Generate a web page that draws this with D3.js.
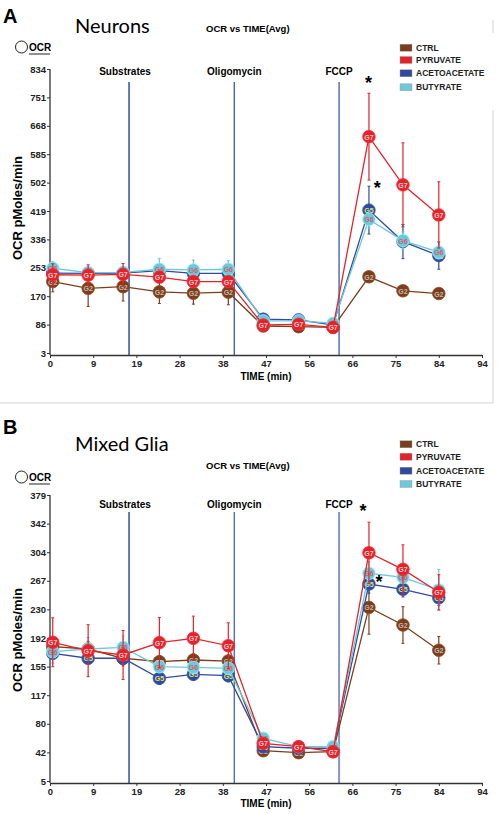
<!DOCTYPE html>
<html><head><meta charset="utf-8">
<script src="https://cdn.jsdelivr.net/npm/d3@7"></script>
<style>
body{margin:0;background:#fff}
svg{display:block}
text{font-family:"Liberation Sans",Arial,sans-serif}
</style>
</head><body>
<svg id="c" width="498" height="814"></svg>
<script>
// ---------- data ----------
const times = [0.6, 8.3, 15.9, 23.8, 31.2, 38.8, 46.4, 54.1, 61.6, 69.4, 76.8, 84.6];
const seriesNames = ["CTRL", "PYRUVATE", "ACETOACETATE", "BUTYRATE"];
const seriesCodes = ["G2", "G7", "G5", "G6"];
const xTickValues = [0, 9.4, 18.8, 28.2, 37.6, 47, 56.4, 65.8, 75.2, 84.6, 94];
const xTickLabels = ["0", "9", "19", "28", "38", "47", "56", "66", "75", "84", "94"];
const events = ["Substrates", "Oligomycin", "FCCP"];
const eventTimes = [17.2, 40.1, 62.9];

// Neurons (panel A)
const neuronsYTicks = [3, 86.1, 169.2, 252.3, 335.4, 418.5, 501.6, 584.7, 667.8, 750.9, 834];
const neuronsYLabels = ["3", "86", "170", "253", "336", "419", "502", "585", "668", "751", "834"];
const neuronsCTRL = [212, 192, 197, 182, 178, 181, 82, 80, 78, 226, 185, 177];
const neuronsPYR = [232, 231, 233, 225, 212, 212, 85, 87, 78, 636, 495, 407];
const neuronsACAC = [237, 236, 237, 244, 236, 236, 102, 100, 85, 421, 329, 288];
const neuronsBUT = [251, 238, 239, 248, 246, 248, 97, 97, 90, 394, 332, 298];
const neuronsCTRLerr = [30, 53, 42, 34, 32, 37, 8, 6, 6, 12, 10, 12];
const neuronsPYRerr = [32, 30, 32, 15, 15, 15, 8, 6, 6, 127, 123, 97];
const neuronsACACerr = [15, 15, 15, 15, 15, 15, 6, 6, 6, 70, 50, 40];
const neuronsBUTerr = [20, 15, 15, 32, 29, 25, 6, 6, 6, 25, 25, 20];
const neuronsStars = [[69.3, 797], [71.2, 490]];

// Mixed Glia (panel B)
const gliaYTicks = [5, 42.4, 79.8, 117.2, 154.6, 192, 229.4, 266.8, 304.2, 341.6, 379];
const gliaYLabels = ["5", "42", "80", "117", "155", "192", "230", "267", "304", "342", "379"];
const gliaCTRL = [180.6, 177.6, 165.5, 161, 163.2, 161.9, 44.6, 42, 43.3, 232, 209, 176];
const gliaPYR = [186.4, 175.4, 169.8, 185.9, 191.6, 181.9, 54.3, 49.9, 43.3, 303.5, 281.8, 251.8];
const gliaACAC = [172, 165.5, 165.5, 139.3, 144.5, 142.7, 49.9, 47.8, 47.8, 262.6, 255.7, 244.7];
const gliaBUT = [174.1, 177.6, 179.7, 154.5, 153.7, 152.4, 60.8, 49.9, 49.9, 276.6, 271.4, 254.8];
const gliaCTRLerr = [10, 10, 10, 8, 8, 8, 5, 5, 5, 35, 24, 18];
const gliaPYRerr = [32, 34, 32, 33, 29, 30, 6, 6, 5, 40, 32, 23];
const gliaACACerr = [8, 8, 8, 8, 8, 8, 4, 4, 4, 12, 10, 10];
const gliaBUTerr = [15, 15, 15, 8, 8, 8, 4, 4, 4, 15, 12, 27];
const gliaStars = [[68.1, 360], [71.6, 267]];

// ---------- styles ----------
const seriesColors = ["#7a3e1d", "#e3232b", "#2f4b9c", "#6ec8da"];
const codeColors = ["#c9b6ab", "#f6c9c9", "#e8e06a", "#d0606c"];
const drawOrder = [0, 2, 3, 1];

const svg = d3.select("#c");

function panel(cfg) {
  const g = svg.append("g");
  const x = d3.scaleLinear().domain([0, 94]).range([50, 482]);
  const y = d3.scaleLinear().domain(cfg.yDomain).range(cfg.yRange);

  // letter + titles
  g.append("text").attr("x", 3).attr("y", cfg.letterY).attr("font-size", 20)
    .attr("font-weight", "bold").attr("dominant-baseline", "central").text(cfg.letter);
  g.append("text").attr("x", 75).attr("y", cfg.titleY).attr("font-size", 20)
    .style("font-family", "Lato, 'Open Sans', sans-serif")
    .attr("dominant-baseline", "central").text(cfg.title);
  g.append("text").attr("x", 206).attr("y", cfg.subY).attr("font-size", 9.5)
    .attr("font-weight", "bold").attr("dominant-baseline", "central").text("OCR vs TIME(Avg)");

  // OCR key
  g.append("circle").attr("cx", 21.5).attr("cy", cfg.keyY).attr("r", 6)
    .attr("fill", "none").attr("stroke", "#222").attr("stroke-width", 1);
  g.append("text").attr("x", 29).attr("y", cfg.keyY).attr("font-size", 10)
    .attr("font-weight", "bold").attr("dominant-baseline", "central").text("OCR");
  g.append("line").attr("x1", 29).attr("x2", 50).attr("y1", cfg.keyY + 7).attr("y2", cfg.keyY + 7)
    .attr("stroke", "#222").attr("stroke-width", 1);

  // legend
  seriesNames.forEach((n, i) => {
    const ly = cfg.legendY[i];
    g.append("rect").attr("x", 400).attr("y", ly - 3.5).attr("width", 12).attr("height", 7)
      .attr("fill", seriesColors[i]).attr("stroke", "#999").attr("stroke-width", 0.4);
    g.append("text").attr("x", 416).attr("y", ly).attr("font-size", 8.5)
      .attr("font-weight", "bold").attr("fill", "#222").attr("dominant-baseline", "central").text(n);
  });

  // event lines
  events.forEach((e, i) => {
    const ex = x(eventTimes[i]);
    g.append("line").attr("x1", ex).attr("x2", ex).attr("y1", cfg.eventLineTop).attr("y2", cfg.axisY)
      .attr("stroke", cfg.eventColors[i]).attr("stroke-width", cfg.eventWidths[i]);
    g.append("text").attr("x", ex - (i === 0 ? 4 : 0)).attr("y", cfg.eventLabelY).attr("font-size", 10)
      .attr("font-weight", "bold").attr("text-anchor", "middle").attr("dominant-baseline", "central").text(e);
  });

  // axes
  const yAxis = d3.axisLeft(y).tickValues(cfg.yTicks).tickFormat((d, i) => cfg.yLabels[i])
    .tickSize(3).tickSizeOuter(0);
  const ya = g.append("g").attr("transform", "translate(50,0)").call(yAxis);
  ya.select(".domain").remove();
  ya.append("line").attr("x1", 0).attr("x2", 0).attr("y1", cfg.yRange[1]).attr("y2", cfg.axisY)
    .attr("stroke", "#333").attr("stroke-width", 1.3);
  ya.selectAll(".tick line").attr("stroke", "#333");
  ya.selectAll(".tick text").attr("font-size", 9.5).attr("font-weight", "bold").attr("fill", "#222")
    .attr("x", -4).style("font-family", "'Liberation Sans', Arial, sans-serif");

  const xAxis = d3.axisBottom(x).tickValues(xTickValues).tickFormat((d, i) => xTickLabels[i])
    .tickSize(3).tickSizeOuter(0);
  const xa = g.append("g").attr("transform", `translate(0,${cfg.axisY})`).call(xAxis);
  xa.select(".domain").attr("stroke", "#333").attr("stroke-width", 1.3);
  xa.selectAll(".tick line").attr("stroke", "#333");
  xa.selectAll(".tick text").attr("font-size", 9.5).attr("font-weight", "bold").attr("fill", "#222")
    .attr("y", 5).style("font-family", "'Liberation Sans', Arial, sans-serif");

  g.append("text").attr("x", 266).attr("y", cfg.xLabelY).attr("font-size", 10).attr("font-weight", "bold")
    .attr("text-anchor", "middle").attr("dominant-baseline", "central").text("TIME (min)");
  g.append("text").attr("transform", `translate(17,${cfg.yLabelY}) rotate(-90)`).attr("font-size", 13)
    .attr("font-weight", "bold").attr("text-anchor", "middle").attr("dominant-baseline", "central")
    .text("OCR pMoles/min");

  // series
  const line = d3.line().x((d, i) => x(times[i])).y(d => y(d));
  drawOrder.forEach(si => {
    const vals = cfg.values[si], errs = cfg.errors[si], col = seriesColors[si];
    const sg = g.append("g");
    sg.selectAll("line.eb").data(vals).join("line").attr("class", "eb")
      .attr("x1", (d, i) => x(times[i])).attr("x2", (d, i) => x(times[i]))
      .attr("y1", (d, i) => y(d - errs[i])).attr("y2", (d, i) => y(d + errs[i]))
      .attr("stroke", col).attr("stroke-width", 1.2);
    sg.selectAll("line.cap").data(vals.flatMap((d, i) => [[i, d + errs[i]], [i, d - errs[i]]])).join("line")
      .attr("class", "cap")
      .attr("x1", d => x(times[d[0]]) - 1.5).attr("x2", d => x(times[d[0]]) + 1.5)
      .attr("y1", d => y(d[1])).attr("y2", d => y(d[1]))
      .attr("stroke", col).attr("stroke-width", 1);
    sg.append("path").datum(vals).attr("d", line).attr("fill", "none")
      .attr("stroke", col).attr("stroke-width", 1.3);
    sg.selectAll("circle").data(vals).join("circle")
      .attr("cx", (d, i) => x(times[i])).attr("cy", d => y(d)).attr("r", 6.3)
      .attr("fill", col).attr("stroke", d3.color(col).brighter(0.6)).attr("stroke-width", 0.8);
    sg.selectAll("text").data(vals).join("text")
      .attr("x", (d, i) => x(times[i])).attr("y", d => y(d) + 0.5)
      .attr("font-size", 7).attr("font-weight", "bold").attr("fill", codeColors[si])
      .attr("text-anchor", "middle").attr("dominant-baseline", "central").text(seriesCodes[si]);
  });

  // significance stars
  cfg.stars.forEach(s => {
    g.append("text").attr("x", x(s[0])).attr("y", y(s[1]) + 7).attr("font-size", 18)
      .attr("font-weight", "bold").attr("text-anchor", "middle").text("*");
  });
}

panel({
  letter: "A", letterY: 16, title: "Neurons", titleY: 25, subY: 28, keyY: 47,
  legendY: [47.7, 60, 73.3, 87.3], eventLabelY: 71, eventLineTop: 82,
  eventColors: ["#3b59a6", "#3b59a6", "#3b59a6"], eventWidths: [1.6, 1.3, 1.3],
  yDomain: [3, 834], yRange: [353, 69], axisY: 355, xLabelY: 376, yLabelY: 208,
  yTicks: neuronsYTicks, yLabels: neuronsYLabels,
  values: [neuronsCTRL, neuronsPYR, neuronsACAC, neuronsBUT],
  errors: [neuronsCTRLerr, neuronsPYRerr, neuronsACACerr, neuronsBUTerr],
  stars: neuronsStars
});

panel({
  letter: "B", letterY: 427, title: "Mixed Glia", titleY: 443, subY: 465, keyY: 477,
  legendY: [444.3, 456.7, 470.7, 484], eventLabelY: 504.3, eventLineTop: 512,
  eventColors: ["#3b59a6", "#4964ab", "#8597c9"], eventWidths: [1.6, 1.3, 2],
  yDomain: [5, 379], yRange: [781, 495], axisY: 783, xLabelY: 803, yLabelY: 640,
  yTicks: gliaYTicks, yLabels: gliaYLabels,
  values: [gliaCTRL, gliaPYR, gliaACAC, gliaBUT],
  errors: [gliaCTRLerr, gliaPYRerr, gliaACACerr, gliaBUTerr],
  stars: gliaStars
});

// panel A frame
svg.append("path").attr("d", "M0,403H493V110M493,20V33").attr("fill", "none")
  .attr("stroke", "#d4d4d4").attr("stroke-width", 1);
</script>
</body></html>
